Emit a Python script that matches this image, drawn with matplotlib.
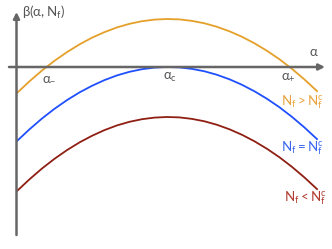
import matplotlib
matplotlib.use("Agg")
import matplotlib.pyplot as plt

plt.rcParams['font.family'] = ['Lato', 'DejaVu Sans']

# alpha sample positions and beta values
alpha = [0.0, 0.125, 0.25, 0.375, 0.5, 0.625, 0.75, 0.875, 1.0, 1.125, 1.25, 1.375, 1.5,
         1.625, 1.75, 1.875, 2.0, 2.125, 2.25, 2.375, 2.5, 2.625, 2.75, 2.875, 3.0]
beta_above = [-0.26, -0.143, -0.035, 0.062, 0.149, 0.226, 0.293, 0.349, 0.396, 0.432, 0.458, 0.474, 0.48,
              0.476, 0.461, 0.437, 0.402, 0.357, 0.302, 0.237, 0.162, 0.077, -0.019, -0.125, -0.241]
beta_crit = [-0.74, -0.623, -0.515, -0.418, -0.331, -0.254, -0.188, -0.131, -0.084, -0.048, -0.022, -0.006, 0.0,
             -0.004, -0.019, -0.043, -0.078, -0.123, -0.178, -0.243, -0.318, -0.403, -0.499, -0.605, -0.721]
beta_below = [-1.24, -1.123, -1.015, -0.918, -0.831, -0.754, -0.688, -0.631, -0.584, -0.548, -0.522, -0.506, -0.50,
              -0.504, -0.519, -0.543, -0.578, -0.623, -0.678, -0.743, -0.818, -0.903, -0.999, -1.105, -1.221]

# roots marked on the alpha axis
alpha_minus, alpha_c, alpha_plus = 0.32, 1.53, 2.71

fig = plt.figure(figsize=(3.32, 2.49), dpi=100)
ax = fig.add_axes([0, 0, 1, 1])
ax.set_xlim(-0.17, 3.15)
ax.set_ylim(-1.82, 0.67)
ax.axis('off')

axis_col = '#666666'
ax.annotate('', xy=(3.08, 0), xytext=(-0.08, 0),
            arrowprops=dict(arrowstyle='-|>', color=axis_col, lw=1.8, mutation_scale=9, shrinkA=0, shrinkB=0))
ax.annotate('', xy=(-0.005, 0.55), xytext=(-0.005, -1.68),
            arrowprops=dict(arrowstyle='-|>', color=axis_col, lw=1.8, mutation_scale=9, shrinkA=0, shrinkB=0))

ax.plot(alpha, beta_above, color='#E5A02A', lw=1.3)
ax.plot(alpha, beta_crit, color='#1F4FFF', lw=1.3)
ax.plot(alpha, beta_below, color='#8E1F12', lw=1.3)

txt_col = '#555555'
ax.text(0.05, 0.55, r'$\mathregular{β(α, N_f)}$', color=txt_col, fontsize=9.5, va='center', ha='left')
ax.text(2.96, 0.09, 'α', color=txt_col, fontsize=9.5, va='bottom', ha='center')
ax.text(alpha_minus, -0.04, r'$\mathregular{α_{-}}$', color=txt_col, fontsize=9.5, va='top', ha='center')
ax.text(alpha_c, -0.04, r'$\mathregular{α_{c}}$', color=txt_col, fontsize=9.5, va='top', ha='center')
ax.text(alpha_plus, -0.04, r'$\mathregular{α_{+}}$', color=txt_col, fontsize=9.5, va='top', ha='center')

ax.text(3.07, -0.35, r'$\mathregular{N_f > N_f^c}$', color='#E8A33D', fontsize=9.5, va='center', ha='right')
ax.text(3.07, -0.81, r'$\mathregular{N_f = N_f^c}$', color='#3A66F0', fontsize=9.5, va='center', ha='right')
ax.text(3.10, -1.31, r'$\mathregular{N_f < N_f^c}$', color='#B03A2E', fontsize=9.5, va='center', ha='right')

fig.savefig('out.png', dpi=100)
